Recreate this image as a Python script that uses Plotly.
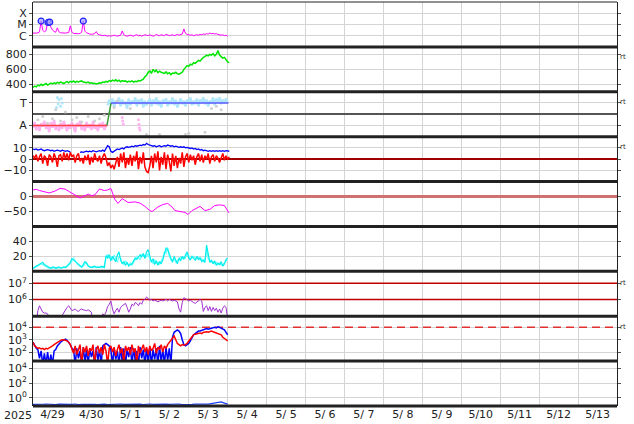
import numpy as np
import pandas as pd
import plotly.graph_objects as go
from plotly.subplots import make_subplots

T0 = pd.Timestamp("2025-04-29 00:00")
T_END = pd.Timestamp("2025-05-14 00:00")

# ---------------- data ----------------
# panel 1: X-ray flux, in units of 1e-6 W/m2 (C-class), hourly from 4/29 00:00
xray_c = [1.7, 1.6, 1.7, 1.8, 2.2,
          20,
          3.0, 2.2, 2.8,
          14, 16, 6,
          3.2, 2.4, 2.0,
          5.0,
          2.2, 1.8, 1.7, 1.6, 1.7, 1.8, 1.9,
          7.5,
          2.0, 1.6, 1.5, 1.4, 1.5, 1.6, 2.0,
          20,
          2.5, 1.8, 1.5, 1.4, 1.3, 1.4, 1.5,
          2.3,
          1.3, 1.2, 1.1, 1.0, 1.1, 1.0, 0.9, 1.0, 0.9, 1.0, 1.1, 1.0, 0.9, 1.0, 1.1,
          2.6,
          1.2, 1.0, 0.9, 1.0, 1.1, 1.0, 0.9, 1.1, 1.2, 1.0, 1.1, 0.9, 1.0, 1.2, 1.1,
          1.0, 1.2, 1.1, 0.9, 1.0, 1.3, 1.1, 1.0, 1.2, 1.1, 1.0, 1.3, 1.2, 1.0, 1.1, 1.2, 1.0, 1.1, 1.3, 1.1, 1.2, 1.4,
          4.0,
          1.6, 1.3, 1.2, 1.1, 1.2, 1.0, 1.1, 1.2, 1.1, 1.3, 1.2, 1.4, 1.3, 1.5, 1.4, 1.7, 1.5, 1.6, 1.4, 1.5, 1.3, 1.2, 1.1, 1.2, 1.0, 1.1, 0.9]
flare_hours = [5, 9.3, 10.3, 31]
flare_peaks = [2.0e-5, 1.5e-5, 1.6e-5, 2.0e-5]
xray_tick_vals = [1e-6, 1e-5, 1e-4]
xray_tick_text = ["C", "M", "X"]

# panel 2: solar wind speed (km/s), hourly
wind_speed = [360, 375, 365, 390, 380, 400, 385, 395, 410, 390, 400,
              415, 405, 420, 410, 425, 415, 430, 420, 410, 425,
              435, 420, 440, 430, 445, 425, 440, 430, 435, 445,
              430, 425, 420, 430, 415, 420, 410, 415, 405, 410,
              420, 415, 430, 425, 440, 430, 450, 440, 455, 445,
              460, 440, 455, 435, 450, 440, 445, 430, 440, 435,
              445, 430, 440, 435, 450, 445, 460, 470, 500, 520,
              560, 580, 545, 600, 570, 590, 555, 575, 560, 550,
              545, 565, 540, 555, 530, 550, 545, 560, 540, 535,
              550, 560, 600, 620, 650, 640, 670, 660, 690, 680,
              700, 720, 710, 740, 760, 770, 790, 780, 800, 790,
              810, 780, 800, 850, 790, 770, 750, 760, 720, 700, 690]

# panel 3: magnetic sector (A = -1, T = +1)
sector_hours = [0, 45.6, 48.1, 120.5]
sector_state = [-1, -1, 1, 1]
away_cloud = [-1.2, -0.7, -1.4, -0.9, -1.5, -0.8, -1.1, -0.6, -1.3, -0.9, -1.6, -0.7, -1.2, -0.5, -1.4,
              -1.0, -1.5, -0.8, -1.3, -0.6, -1.1, -1.5, -0.9, -1.3, -0.7, -1.2, -1.6, -0.8, -1.1, -0.6,
              -1.4, -1.0, -1.5, -0.7, -1.2, -0.9, -1.4, -0.6, -1.3, -1.0, -1.5, -0.8, -1.2, -0.7, -1.4,
              -0.9, -1.1]
toward_cloud = [0.8, 1.3, 0.9, 1.4, 0.6, 1.2, 1.0, 1.5, 0.7, 1.3, 0.9, 1.1, 0.5, 1.4, 0.8, 1.2, 1.0,
                1.5, 0.7, 1.3, 0.9, 1.4, 0.6, 1.2, 0.8, 1.1, 1.4, 0.7, 1.3, 0.9, 1.5, 0.8, 1.2, 0.6,
                1.3, 1.0, 1.4, 0.7, 1.2, 0.9, 1.5, 0.8, 1.3, 0.6, 1.1, 1.4, 0.9, 1.2, 0.7, 1.3, 1.0,
                1.5, 0.8, 1.2, 0.9, 1.4, 0.7, 1.3, 1.0, 1.5, 0.9, 1.3, 0.7, 1.2, 1.0, 1.5, 0.8, 1.4,
                1.1, 1.5, 0.9, 1.3, 1.0, 1.4, 1.1]
early_toward_hours = [14.5, 15, 15.5, 16, 17, 17.5, 18]
early_toward_vals = [0.6, 1.5, 0.9, 1.3, 0.7, 1.4, 1.0]
late_away_hours = [55, 55.3, 55.6, 65, 65.3, 65.6, 65.9]
late_away_vals = [-0.3, -0.6, -0.9, -0.5, -0.9, -1.2, -1.4]
mixed_hours = [3, 6, 9, 12, 14, 17, 20, 24, 27, 30, 34, 38, 41, 44, 50, 52, 60, 70, 78, 94, 96, 106, 110, 113, 116]
mixed_vals = [-0.5, -0.2, -0.8, -0.4, 0.4, -0.6, 0.2, -0.5, -0.3, -0.7, -0.2, -0.6, -0.4, -0.1, 0.6, 1.2,
              0.5, -1.8, -1.8, -1.8, -1.7, -1.6, 0.5, 0.7, 0.4]

# panel 4: IMF Bt (blue) and Bz (red), nT, hourly
imf_bt = [9, 8.5, 9, 8, 8.5, 9, 8, 7.5, 8, 8.5, 8,
          7.5, 8, 7, 7.5, 8, 7.5, 7, 8, 7.5, 7,
          7.5, 7, 6.5, None, None, None, None, None, 6, 6.5,
          6, 6.5, 7, 6.5, 7, 6.5, 7.5, 7, 6.5, 7,
          7.5, 7, 8, 7, 10, 12, 11, 7, 6, 7,
          8, 9, 8.5, 9, 10, 9, 10.5, 11, 10.5, 11,
          11.5, 11, 12, 11.5, 12, 12.5, 12, 13, 12.5, 14,
          13, 12.5, 12, 11.5, 12, 11, 11.5, 12, 11, 11.5,
          12, 11.5, 12.5, 12, 11.5, 12, 11, 11.5, 11, 10.5,
          11, 10.5, 11, 10, 10.5, 10, 9.5, 10, 9, 9.5,
          8.5, 9, 8, 8.5, 7.5, 8, 7.5, 7, 7.5, 7,
          7.5, 7, 7.5, 7, 7.5, 7, 7.5, 7, 7.5, 7, 7]
imf_bz = [3, 1, 4, -2, 2, 5, -4, 3, 1, -6, 4,
          2, -3, 5, 1, -7, 3, 4, -2, 6, 0,
          5, -1, 6, 2, 4, -3, 3, 5, -2, 1,
          -4, 3, -1, 4, -5, 2, -3, 5, 0, -2,
          3, -4, 2, 5, 1, -6, -3, -8, -5, -9,
          -4, 2, -7, 5, -3, 6, -8, 1, -5, 4,
          -6, 3, -2, 7, -9, 2, -4, 6, -7, -11,
          -12, -6, 3, -8, 5, -3, 7, -10, 2, -5,
          6, -9, 4, -2, -11, 5, -6, 3, -8, 1,
          -4, 6, -7, 2, 5, -3, 4, -1, 3, -5,
          2, 5, -2, 4, -3, 3, 0, 5, -4, 2,
          4, -2, 3, 1, -3, 2, 5, -1, 3, 0, 2]

# panel 5: Dst index (nT)
dst_hours = [0, 2, 4, 7, 10, 13.5, 16.6, 19.7, 22.8, 26, 29, 31, 34, 36, 38, 41, 44, 46, 48, 50.5,
             52.4, 55, 58.6, 63, 66, 69, 72, 73.4, 77, 80, 83, 85.7, 87.5, 90.6, 93.7, 95.6, 98,
             100.5, 103, 106, 109, 112, 115, 118, 120.8]
dst_vals = [22, 24, 20, 15, 12, 18, 27, 25, 15, 2, -5, 0, 8, 3, 5, 25, 20, 22, 27, -10,
            -23, -7, -20, -18, -22, -33, -47, -50, -35, -27, -23, -35, -47, -50, -53, -60, -47,
            -40, -33, -47, -43, -30, -28, -30, -55]

# panel 6: two cyan indices, hourly
index_a = [4, 6, 7, 8, 9, 11, 12, 9, 8, 6,
           5, 4, 6, 5, 4, 5, 6, 4, 5, 6, 5,
           7, 9, 12, 17, 15, 13, 11,
           10, 8, 6, 9, 13, 11, 7, 6,
           5, 6, 7, 5, 6, 5, 7, 6, 5,
           21, 18, 22, 14, 20, 16, 13, 22, 26,
           15, 10, 13, 8, 12, 7, 9,
           10, 14, 18, 16, 20, 22,
           19, 24, 17, 26, 29, 22,
           12, 17, 9, 14, 8, 13, 10, 15,
           22, 31, 29, 24, 18,
           12, 20, 15, 10, 18, 14, 20,
           16, 22, 26, 18, 15, 20,
           17, 15, 20, 16, 18, 13, 15, 12,
           35,
           20, 12, 15, 10, 14, 8, 11,
           9, 13, 7, 10, 16, 18]
index_b = [3, 5, 6, 7, 8, 10, 9, 7, 6, 5,
           4, 5, 4, 6, 5, 4, 5, 5, 4, 5, 6,
           6, 8, 10, 14, 18, 14, 10,
           8, 7, 5, 7, 10, 12, 8, 6,
           6, 5, 6, 6, 5, 6, 6, 5, 8,
           18, 23, 17, 20, 15, 22, 18, 12, 20,
           18, 12, 9, 14, 10, 8, 11,
           8, 12, 15, 20, 18, 16,
           23, 20, 22, 19, 24, 16,
           15, 10, 16, 11, 12, 9, 14, 18,
           26, 24, 32, 20, 15,
           15, 17, 12, 14, 16, 19, 17,
           19, 18, 23, 21, 17, 18,
           20, 18, 16, 19, 15, 17, 13, 16,
           28,
           17, 14, 12, 13, 10, 12, 9,
           11, 8, 9, 12, 14, 15]

# panel 7: electron flux, log10, hourly
electron_log10 = [4.5, 4.5, 4.5,
                  5.3, 5.6, 5.4, 5.2, 5.15, 5.15, 5.1,
                  4.5, 4.5, 4.5, 4.5, 4.5, 4.5, 4.5, 4.5,
                  5.0, 5.2, 5.35, 5.5, 5.6, 5.4,
                  5.3, 5.35, 5.4, 5.3, 5.25, 5.35, 5.4, 5.35, 5.3, 5.3, 5.35, 5.3, 5.2, 4.5,
                  4.5, 4.5, 4.5, 4.5, 4.5,
                  5.1, 5.0, 5.2, 5.55, 5.7,
                  5.9, 5.4, 5.1, 5.3, 5.45, 5.2, 5.5, 5.6, 5.7, 5.75, 5.5, 5.2, 5.4,
                  5.7, 5.6, 5.8, 5.75, 5.6, 5.8, 5.7, 5.95, 6.0, 6.15, 6.05, 5.95, 6.0, 5.9, 5.95,
                  5.9, 5.85, 5.9, 5.95, 5.9, 5.95, 6.0, 5.9, 6.0,
                  5.95, 5.9, 5.95, 5.9, 5.85, 5.4,
                  5.2, 5.8, 6.1, 6.05, 6.0, 5.9, 5.95, 5.85, 5.8, 5.75, 5.85, 5.95, 6.0, 5.9, 5.25,
                  5.5, 5.6, 5.3, 5.55, 5.25, 5.5, 5.3, 5.45, 5.2, 5.4, 5.15, 5.45, 5.6, 5.5, 4.8]
electron_levels = [1e6, 1e7]

# panel 8: proton flux (blue, red), log10, hourly
proton_blue_log10 = [2.8,
                     2.5, 2.3, 2.2,
                     1.5, 2.1, 1.0, 1.9, 1.0, 2.0, 1.0, 1.8, 1.0, 2.1,
                     2.2,
                     2.5, 2.7, 2.8, 2.9, 3.0, 3.05, 2.95, 2.8, 2.6,
                     2.3,
                     2.2, 1.0, 2.3, 1.5, 2.1, 1.0, 2.4, 1.2, 2.2, 1.0, 2.3, 1.6, 2.1, 1.0, 2.4, 1.3, 2.2, 1.0,
                     2.5, 2.6, 2.7, 2.6, 2.5,
                     2.2, 1.0, 2.3, 1.4, 2.1, 1.0, 2.4, 1.2, 2.3, 1.0, 2.2, 1.6, 2.4, 1.0, 2.3, 1.3, 2.1, 1.0,
                     2.4, 1.5, 2.2, 1.0, 2.3, 1.1, 2.4, 1.0, 2.2, 1.4, 2.3, 1.0, 2.5, 1.2, 2.2, 1.0, 2.4, 1.3,
                     2.3, 1.0,
                     3.2,
                     3.6, 3.7, 3.8, 3.7,
                     3.5,
                     3.0, 2.6, 2.5, 2.6,
                     2.7, 2.9, 3.2, 3.4,
                     3.5, 3.6, 3.7, 3.7, 3.75,
                     3.8, 3.85, 3.9, 3.85, 3.9, 3.95, 4.0, 4.0, 3.95, 4.05, 4.0, 3.95,
                     3.9, 3.8, 3.6, 3.4]
proton_red_log10 = [2.8,
                    2.5, 2.4, 2.3, 2.35, 2.25, 2.3, 2.2, 2.3, 2.25, 2.35,
                    2.4, 2.5, 2.6, 2.7,
                    2.8, 2.9, 2.95, 3.0, 3.0, 2.95, 2.9, 2.8,
                    2.6,
                    2.3, 1.9, 2.5, 1.8, 2.2, 2.6, 1.0, 2.4, 2.0, 2.5,
                    1.7, 2.3, 2.1, 2.6, 1.0, 2.2, 2.5, 1.9, 2.4, 1.8,
                    2.6, 2.1, 1.0, 2.3, 2.5, 2.0, 2.4, 1.7, 2.2, 2.6,
                    1.9, 2.3, 1.0, 2.5, 2.1, 2.4, 1.8, 2.6, 2.0, 2.3,
                    1.0, 2.5, 1.9, 2.2, 2.6, 2.0, 2.4, 1.8, 2.5, 2.1,
                    2.3, 2.7, 1.9, 2.4, 2.2, 2.6, 2.0, 2.5, 2.3, 2.6,
                    2.8, 2.9,
                    3.1, 3.3, 3.0, 2.7, 2.6, 2.5, 2.6, 2.55, 2.6, 2.7, 2.9, 3.1, 3.3, 3.4, 3.45, 3.5, 3.5,
                    3.55, 3.5, 3.6, 3.6, 3.65, 3.6, 3.65, 3.7, 3.65, 3.6, 3.55, 3.5, 3.45, 3.4, 3.2, 3.1,
                    3.0, 2.9]
proton_alert_level = 1e4

# panel 9: high-energy flux, log10, every 2 hours
high_energy_log10 = [-0.88, -0.84, -0.9, -0.86, -0.83, -0.89, -0.85, -0.91, -0.84, -0.87,
                     -0.9, -0.85, -0.88, -0.83, -0.9, -0.86, -0.84, -0.89, -0.85, -0.88,
                     -0.91, -0.86, -0.84, -0.9, -0.87, -0.85, -0.89, -0.83, -0.88, -0.86,
                     -0.9, -0.84, -0.87, -0.85, -0.91, -0.86, -0.83, -0.88, -0.85, -0.9,
                     -0.86, -0.84, -0.89, -0.85, -0.87, -0.83, -0.9, -0.86, -0.84, -0.88,
                     -0.85, -0.82, -0.86, -0.83, -0.84, -0.78, -0.72, -0.62, -0.55, -0.7, -0.85]

day_tick_format = "%-m/%e"
year_label = "2025"

# ---------------- helpers ----------------
def hourly(vals, start=0.0, step=1.0):
    return T0 + pd.to_timedelta(start + step * np.arange(len(vals)), unit="h")

def at_hours(hrs):
    return T0 + pd.to_timedelta(np.asarray(hrs, dtype=float), unit="h")

FULL_X = [T0, T_END]

fig = make_subplots(rows=9, cols=1, shared_xaxes=True, vertical_spacing=0)

def line(x, y, color, width=1.0, row=1, dash=None, mode="lines", **kw):
    fig.add_trace(go.Scatter(x=x, y=y, mode=mode, line=dict(color=color, width=width, dash=dash),
                             hoverinfo="skip", connectgaps=False, **kw), row=row, col=1)

# panel 1
line(hourly(xray_c), np.array(xray_c) * 1e-6, "#ff00ff", 1.0, row=1)
fig.add_trace(go.Scatter(x=at_hours(flare_hours), y=flare_peaks, mode="markers",
                         marker=dict(symbol="circle", size=6, color="rgba(160,160,255,0.7)",
                                     line=dict(color="#2020ff", width=1.2))), row=1, col=1)

# panel 2
line(hourly(wind_speed), wind_speed, "#00e600", 1.5, row=2)

# panel 3
line(hourly(away_cloud), away_cloud, "#ffb4f2", 2.4, row=3)
line(hourly(toward_cloud, start=46), toward_cloud, "#b0e6fa", 2.4, row=3)
fig.add_trace(go.Scatter(x=at_hours(early_toward_hours), y=early_toward_vals, mode="markers",
                         marker=dict(size=3, color="#b0e6fa")), row=3, col=1)
fig.add_trace(go.Scatter(x=at_hours(mixed_hours), y=mixed_vals, mode="markers",
                         marker=dict(size=3, color="#d0d0d0")), row=3, col=1)
fig.add_trace(go.Scatter(x=at_hours(late_away_hours), y=late_away_vals, mode="markers",
                         marker=dict(size=3, color="#ffb4f2")), row=3, col=1)
sx = at_hours(sector_hours)
line(sx[0:2], sector_state[0:2], "#ff4040", 1.5, row=3)
line(sx[1:3], sector_state[1:3], "#3a9a3a", 1.5, row=3)
line(sx[2:4], sector_state[2:4], "#5a5aff", 1.5, row=3)

# panel 4
line(hourly(imf_bz), imf_bz, "#ff0000", 1.5, row=4)
line(hourly(imf_bt), imf_bt, "#0000ff", 1.3, row=4)

# panel 5
line(at_hours(dst_hours), dst_vals, "#ff00ff", 1.0, row=5)

# panel 6
line(hourly(index_b), index_b, "#70ffff", 1.2, row=6)
line(hourly(index_a), index_a, "#00eeee", 1.2, row=6)

# panel 7
for lev in electron_levels:
    line(FULL_X, [lev, lev], "#c00000", 1.5, row=7)
line(hourly(electron_log10), 10 ** np.array(electron_log10), "#a030d0", 1.0, row=7)

# panel 8
line(FULL_X, [proton_alert_level] * 2, "#e03030", 1.5, row=8, dash="8px,5px")
line(hourly(proton_blue_log10), 10 ** np.array(proton_blue_log10), "#0000ff", 1.5, row=8)
line(hourly(proton_red_log10), 10 ** np.array(proton_red_log10), "#ff0000", 1.5, row=8)

# panel 9
line(hourly(high_energy_log10, step=2), 10 ** np.array(high_energy_log10), "#2040ff", 1.2, row=9)

# ---------------- axes ----------------
FONT = "DejaVu Sans"
fig.update_xaxes(type="date", range=FULL_X, tick0=T0, dtick=86400000, showgrid=True,
                 gridcolor="#d4d4d4", gridwidth=1, ticks="", showline=False, zeroline=False,
                 showticklabels=False)
fig.update_xaxes(showticklabels=True, tickformat=day_tick_format, ticklabelmode="period",
                 tickfont=dict(family=FONT, size=11, color="#222"), row=9, col=1)
fig.update_yaxes(showline=True, mirror="ticks", linecolor="#222", linewidth=1, ticks="outside",
                 ticklen=3, tickcolor="#555", showgrid=True, gridcolor="#d4d4d4", zeroline=False,
                 tickfont=dict(family=FONT, size=11, color="#222"))

fig.update_yaxes(type="log", range=[-7, -3], tickvals=xray_tick_vals, ticktext=xray_tick_text, row=1, col=1)
fig.update_yaxes(range=[300, 900], tickvals=[400, 600, 800], row=2, col=1)
fig.update_yaxes(range=[-2, 2], tickvals=[-1, 1], ticktext=["A", "T"], zeroline=True,
                 zerolinecolor="#555", zerolinewidth=1.5, row=3, col=1)
fig.update_yaxes(range=[-20, 20], tickvals=[-10, 0, 10], zeroline=True, zerolinecolor="#a00000",
                 zerolinewidth=1.5, row=4, col=1)
fig.update_yaxes(range=[-100, 50], tickvals=[-50, 0], zeroline=True, zerolinecolor="#d07070",
                 zerolinewidth=2.5, row=5, col=1)
fig.update_yaxes(range=[0, 60], tickvals=[20, 40], row=6, col=1)
fig.update_yaxes(type="log", range=[4.95, 7.75], tickvals=[1e6, 1e7],
                 ticktext=["10<sup>6</sup>", "10<sup>7</sup>"], row=7, col=1)
fig.update_yaxes(type="log", range=[1.27, 4.9], tickvals=[1e2, 1e3, 1e4],
                 ticktext=["10<sup>2</sup>", "10<sup>3</sup>", "10<sup>4</sup>"], row=8, col=1)
fig.update_yaxes(type="log", range=[-1.1, 5], tickvals=[1, 1e2, 1e4],
                 ticktext=["10<sup>0</sup>", "10<sup>2</sup>", "10<sup>4</sup>"], row=9, col=1)

# ---------------- frame, separators, small labels ----------------
shapes = []
for k in range(9):
    shapes.append(dict(type="line", xref="paper", yref="paper", x0=0, x1=1, y0=k / 9, y1=k / 9,
                       line=dict(color="#222", width=3), layer="above"))
shapes.append(dict(type="line", xref="paper", yref="paper", x0=0, x1=1, y0=1, y1=1,
                   line=dict(color="#222", width=1), layer="above"))

PLOT_TOP, PLOT_BOTTOM, PLOT_LEFT, PLOT_W = 2, 406, 33, 584
def py(pix):
    return (PLOT_BOTTOM - pix) / (PLOT_BOTTOM - PLOT_TOP)

annotations = [dict(text=year_label, xref="paper", yref="paper", x=(18 - PLOT_LEFT) / PLOT_W,
                    y=py(415), showarrow=False, xanchor="center", yanchor="middle",
                    font=dict(family=FONT, size=11, color="#222"))]
for ypix in [57, 102, 147, 283, 327]:
    annotations.append(dict(text="rt", xref="paper", yref="paper", x=(623 - PLOT_LEFT) / PLOT_W,
                            y=py(ypix), showarrow=False, xanchor="center", yanchor="middle",
                            font=dict(family=FONT, size=7, color="#333")))

fig.update_layout(width=634, height=424, margin=dict(l=33, r=17, t=2, b=18, autoexpand=False),
                  showlegend=False, plot_bgcolor="white", paper_bgcolor="white",
                  font=dict(family=FONT, size=11, color="#222"),
                  shapes=shapes, annotations=annotations)

fig.write_html("out.html", config={"displayModeBar": False},
               post_script="document.body.style.margin='0';document.body.style.padding='0';")
